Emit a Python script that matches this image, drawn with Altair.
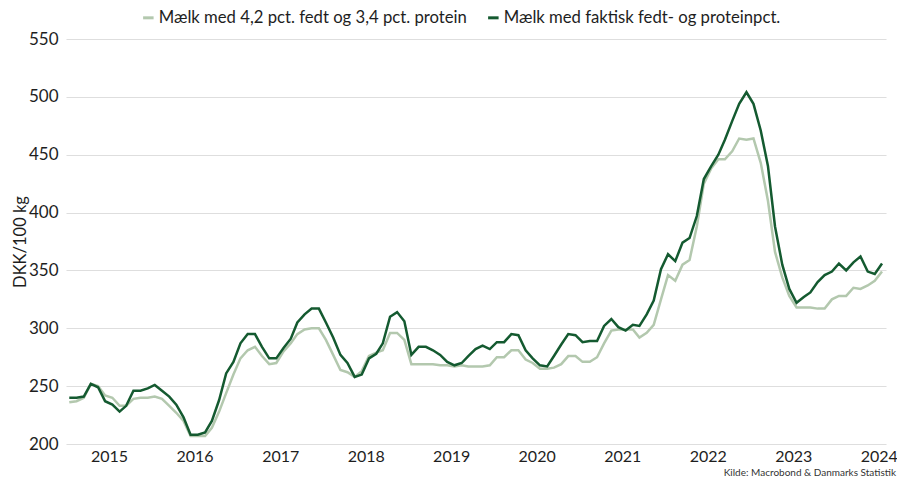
import altair as alt
import pandas as pd

# Monthly values, Jul 2014 - Jan 2024 (DKK/100 kg)
standard = [236, 237, 240, 252, 250, 242, 240, 233, 233, 239, 240, 240,
            241, 239, 233, 227, 220, 207, 207, 207, 214, 228, 244, 260,
            274, 281, 284, 276, 269, 270, 280, 287, 295, 299, 300, 300,
            290, 277, 264, 262, 258, 263, 276, 279, 281, 296, 296, 290,
            269, 269, 269, 269, 268, 268, 267, 268, 267, 267, 267, 268,
            275, 275, 281, 281, 273, 270, 265, 265, 266, 269, 276, 276,
            271, 271, 275, 287, 298, 299, 299, 299, 292, 296, 303, 325,
            346, 341, 355, 359, 388, 425, 438, 446, 446, 453, 464, 463,
            464, 443, 410, 366, 344, 328, 318, 318, 318, 317, 317, 325,
            328, 328, 335, 334, 337, 341, 349]
actual = [240, 240, 241, 252, 249, 237, 234, 228, 233, 246, 246, 248,
          251, 246, 241, 234, 223, 208, 208, 210, 220, 238, 261, 271,
          287, 295, 295, 284, 274, 274, 283, 291, 305, 312, 317, 317,
          305, 292, 277, 270, 258, 260, 274, 278, 287, 310, 314, 306,
          277, 284, 284, 281, 277, 271, 268, 270, 276, 282, 285, 282,
          288, 288, 295, 294, 281, 274, 268, 267, 276, 286, 295, 294,
          288, 289, 289, 302, 308, 301, 298, 303, 302, 312, 324, 351,
          364, 358, 374, 378, 397, 429, 440, 450, 463, 479, 494, 504,
          494, 471, 440, 388, 355, 334, 322, 327, 331, 340, 346, 349,
          356, 350, 357, 362, 349, 347, 356]

series_names = ["Mælk med 4,2 pct. fedt og 3,4 pct. protein",
                "Mælk med faktisk fedt- og proteinpct."]
colors = ["#b3c8ae", "#145a30"]
y_ticks = [200, 250, 300, 350, 400, 450, 500, 550]
x_years = list(range(2015, 2025))

n = len(actual)
months = []
yr, mo = 2014, 7
for _ in range(n):
    months.append(f"{yr}-{mo:02d}-15")
    mo += 1
    if mo > 12:
        mo = 1
        yr += 1

df = pd.DataFrame({
    "date": months + months,
    "value": standard + actual,
    "series": [series_names[0]] * n + [series_names[1]] * n,
})

chart = alt.Chart(df).mark_line(strokeWidth=2.5).encode(
    x=alt.X(
        "date:T",
        scale=alt.Scale(
            type="utc",
            domain=[alt.DateTime(year=2014, month=7, date=1, utc=True),
                    alt.DateTime(year=2024, month=2, date=1, utc=True)],
        ),
        axis=alt.Axis(
            title=None, format="%Y",
            values=[alt.DateTime(year=y, month=1, date=1, utc=True) for y in x_years],
            grid=False, domain=False, ticks=False,
            labelFontSize=16, labelPadding=4, labelColor="#1e1e1e",
        ),
    ),
    y=alt.Y(
        "value:Q",
        scale=alt.Scale(domain=[200, 550], nice=False, zero=False),
        axis=alt.Axis(
            title="DKK/100 kg", values=y_ticks,
            grid=True, gridColor="#dedede", gridWidth=1.2,
            domain=False, ticks=False,
            labelFontSize=17, labelPadding=8, labelColor="#1e1e1e",
            titleFontSize=16.5, titleFontWeight="normal", titleColor="#1e1e1e",
            titlePadding=0,
        ),
    ),
    color=alt.Color(
        "series:N",
        scale=alt.Scale(domain=series_names, range=colors),
        legend=alt.Legend(
            title=None, orient="none", legendX=74, legendY=-30,
            direction="horizontal", symbolType="stroke",
            symbolStrokeWidth=3, symbolSize=110, labelFontSize=16.7,
            labelLimit=0, labelColor="#1e1e1e", columnPadding=15,
            labelOffset=2, padding=0,
        ),
    ),
).properties(
    width=820,
    height=405,
    autosize="none",
    padding={"left": 58, "top": 31, "right": 11, "bottom": 34},
    title=alt.TitleParams(
        "Kilde: Macrobond & Danmarks Statistik",
        orient="bottom", anchor="end", frame="group",
        fontSize=10, fontWeight="normal", color="#333333",
        offset=4, dx=10,
    ),
).configure(
    font="Lato",
).configure_view(
    stroke=None,
)

chart.save("out.html", embed_options={"renderer": "svg", "actions": False})
